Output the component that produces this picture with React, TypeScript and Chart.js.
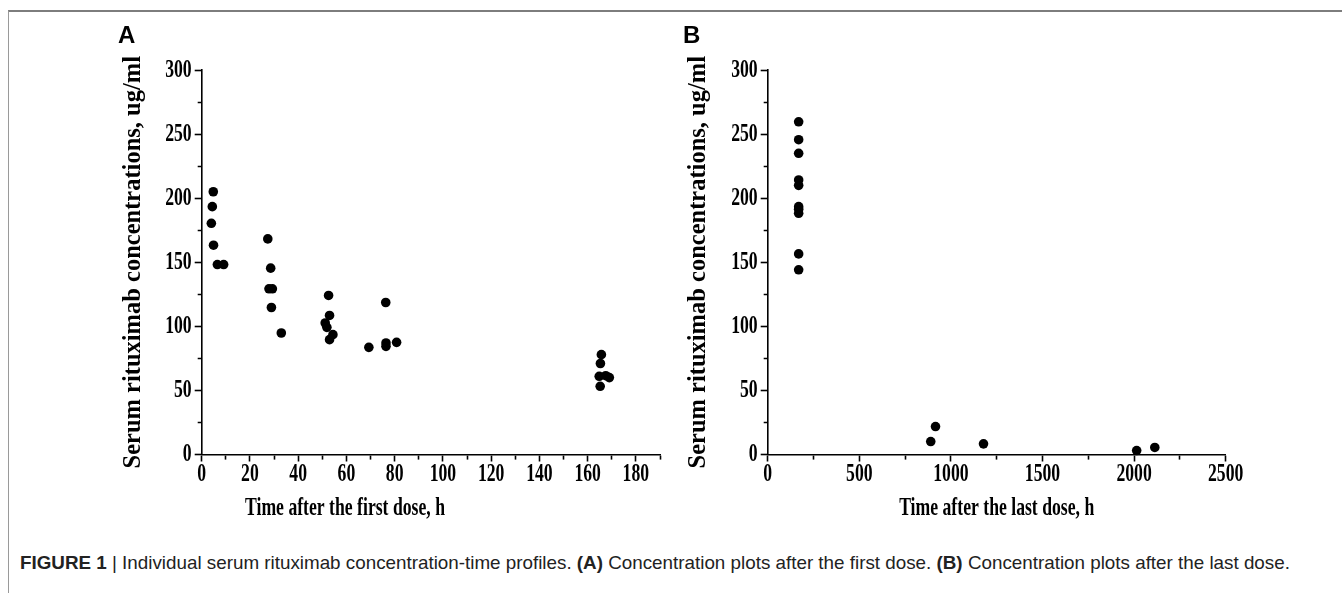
import React, { useEffect, useRef } from "react";
import { Chart, registerables } from "chart.js";

Chart.register(...registerables);

// ---------- Data ----------
// Panel A: time after the first dose (h) and serum rituximab concentration (ug/ml)
const timeAfterFirstDose = [
  4.8, 4.4, 4.0, 4.9, 6.5, 9.1,
  27.4, 28.6, 27.9, 29.3, 28.9, 33.0,
  52.6, 53.0, 51.2, 51.9, 54.4, 53.0,
  69.3, 76.3, 76.4, 76.4, 80.8,
  165.7, 165.3, 164.8, 167.5, 165.2, 169.0,
];
const concAfterFirstDose = [
  205, 193.4, 180.4, 163.3, 148.2, 148.2,
  168.2, 145.4, 129.3, 129.3, 114.7, 94.8,
  124.1, 108.5, 102.6, 99.2, 93.5, 89.6,
  83.6, 118.6, 87.0, 84.4, 87.5,
  77.9, 71.0, 61.0, 61.5, 53.2, 60.0,
];

// Panel B: time after the last dose (h) and serum rituximab concentration (ug/ml)
const timeAfterLastDose = [
  169, 169, 169, 169, 169, 169, 169, 169, 169, 169,
  890, 916, 1178, 2014, 2113,
];
const concAfterLastDose = [
  259.6, 245.6, 235.0, 214.2, 210.0, 193.4, 191.4, 188.2, 156.5, 144.1,
  10.1, 21.8, 8.3, 3.1, 5.5,
];

// Axis ranges / tick steps
const concAxis = { min: 0, max: 300, minorStep: 25, majorStep: 50 };
const firstDoseAxis = { min: 0, max: 190, minorStep: 10, majorStep: 20 };
const lastDoseAxis = { min: 0, max: 2500, minorStep: 250, majorStep: 500 };

// Texts
const panelLabels = ["A", "B"];
const yTitle = "Serum rituximab concentrations, ug/ml";
const xTitleA = "Time after the first dose, h";
const xTitleB = "Time after the last dose, h";

// ---------- Styling ----------
const SERIF = "'Liberation Serif', 'Times New Roman', Times, serif";
const SQUEEZE = 0.68; // the figure's horizontal lettering is condensed
const LABEL_SIZE = 26;
const Y_TITLE_SIZE = 24.5;

function condenseText(ctx: CanvasRenderingContext2D) {
  const anyCtx = ctx as any;
  if (anyCtx.__condensed) return;
  anyCtx.__condensed = true;
  const orig = ctx.fillText.bind(ctx);
  anyCtx.fillText = (text: string, x: number, y: number) => {
    const t = ctx.getTransform();
    if (Math.abs(t.b) > 1e-6) {
      // rotated text (y-axis title) is kept as is
      orig(text, x, y);
      return;
    }
    ctx.save();
    ctx.translate(x, y);
    const m = ctx.getTransform();
    ctx.setTransform(m.a * SQUEEZE, m.b, m.c * SQUEEZE, m.d, m.e, m.f);
    orig(text, 0, 0);
    ctx.restore();
  };
}

type AxisCfg = { min: number; max: number; minorStep: number; majorStep: number };

function axisOptions(cfg: AxisCfg, horizontal: boolean, size: number, extra: any) {
  const tickLen = 7;
  const minorLen = 4;
  return {
    type: "linear",
    min: cfg.min,
    max: cfg.max,
    border: { display: true, color: "#000", width: 1.6 },
    grid: {
      display: true,
      drawOnChartArea: false,
      drawTicks: true,
      tickLength: tickLen,
      tickColor: "#000",
      tickWidth: 1.6,
      tickBorderDash: (c: any) => {
        const v = c.tick ? c.tick.value : 0;
        const major = Math.abs(v % cfg.majorStep) < 1e-6;
        if (major) return [];
        return horizontal ? [minorLen, 100] : [0, tickLen - minorLen, minorLen, 100];
      },
    },
    ticks: {
      stepSize: cfg.minorStep,
      autoSkip: false,
      maxRotation: 0,
      minRotation: 0,
      color: "#000",
      padding: horizontal ? -3 : 3,
      font: { family: SERIF, size: LABEL_SIZE, weight: "bold" },
      callback: (v: number) => (Math.abs(v % cfg.majorStep) < 1e-6 ? String(v) : ""),
    },
    afterFit: (s: any) => {
      if (horizontal) s.height = size;
      else s.width = size;
    },
    ...extra,
  };
}

function makeChart(
  canvas: HTMLCanvasElement,
  xs: number[],
  ys: number[],
  xCfg: AxisCfg,
  geom: { padL: number; padR: number; yWidth: number; yTitlePad: number; xHeight: number },
  xTitleScale: string | null,
  xTitlePlugin: string | null
) {
  const ctx = canvas.getContext("2d")!;
  condenseText(ctx);
  const points = xs.map((x, i) => ({ x, y: ys[i] }));
  return new Chart(ctx, {
    type: "scatter",
    data: {
      datasets: [
        {
          data: points,
          pointRadius: 4.8,
          pointBackgroundColor: "#000",
          pointBorderWidth: 0,
          pointHoverRadius: 4.8,
          clip: false,
        } as any,
      ],
    },
    options: {
      responsive: false,
      maintainAspectRatio: false,
      animation: false,
      events: [],
      layout: { padding: { left: geom.padL, right: geom.padR, top: 70, bottom: 0 } },
      plugins: {
        legend: { display: false },
        tooltip: { enabled: false },
        title: xTitlePlugin
          ? {
              display: true,
              text: xTitlePlugin,
              position: "bottom",
              align: "center",
              color: "#000",
              font: { family: SERIF, size: LABEL_SIZE, weight: "bold" },
              padding: { top: 0, bottom: 16.4 },
            }
          : { display: false },
      },
      scales: {
        x: axisOptions(xCfg, true, geom.xHeight, {
          position: "bottom",
          title: xTitleScale
            ? {
                display: true,
                text: xTitleScale,
                color: "#000",
                font: { family: SERIF, size: LABEL_SIZE, weight: "bold" },
                padding: { top: 0, bottom: 16.4 },
              }
            : { display: false },
        }),
        y: axisOptions(concAxis, false, geom.yWidth, {
          position: "left",
          title: {
            display: true,
            text: yTitle,
            color: "#000",
            font: { family: SERIF, size: Y_TITLE_SIZE, weight: "bold" },
            padding: { top: geom.yTitlePad, bottom: 0 },
          },
        }),
      },
    } as any,
  });
}

export default function App() {
  const refA = useRef<HTMLCanvasElement>(null);
  const refB = useRef<HTMLCanvasElement>(null);

  useEffect(() => {
    const charts: Chart[] = [];
    if (refA.current) {
      charts.push(
        makeChart(
          refA.current,
          timeAfterFirstDose,
          concAfterFirstDose,
          firstDoseAxis,
          { padL: 10, padR: 10, yWidth: 171.7, yTitlePad: 89.3, xHeight: 37.9 },
          null,
          xTitleA
        )
      );
    }
    if (refB.current) {
      charts.push(
        makeChart(
          refB.current,
          timeAfterLastDose,
          concAfterLastDose,
          lastDoseAxis,
          { padL: 0, padR: 104.3, yWidth: 97.7, yTitlePad: 14.3, xHeight: 85.5 },
          xTitleB,
          null
        )
      );
    }
    return () => charts.forEach((c) => c.destroy());
  }, []);

  const panelLabelStyle: React.CSSProperties = {
    position: "absolute",
    top: 23,
    font: "bold 24px 'Liberation Sans', Arial, sans-serif",
    lineHeight: "24px",
    color: "#000",
  };

  return (
    <div
      style={{
        position: "fixed",
        left: 0,
        top: 0,
        width: 1342,
        height: 593,
        background: "#fff",
        overflow: "hidden",
      }}
    >
      <div
        style={{
          position: "absolute",
          left: 8,
          top: 10,
          width: 1400,
          height: 700,
          borderTop: "2px solid #7d7d7d",
          borderLeft: "1.5px solid #9a9a9a",
        }}
      />
      <canvas
        ref={refA}
        width={650}
        height={540}
        style={{ position: "absolute", left: 20, top: 0, width: 650, height: 540 }}
      />
      <canvas
        ref={refB}
        width={660}
        height={540}
        style={{ position: "absolute", left: 670, top: 0, width: 660, height: 540 }}
      />
      <div style={{ ...panelLabelStyle, left: 118 }}>{panelLabels[0]}</div>
      <div style={{ ...panelLabelStyle, left: 683 }}>{panelLabels[1]}</div>
      <div
        style={{
          position: "absolute",
          left: 20,
          top: 552,
          font: "19px 'Liberation Sans', Arial, sans-serif",
          lineHeight: "22px",
          color: "#222",
          whiteSpace: "nowrap",
          transform: "scaleX(0.99)",
          transformOrigin: "left center",
        }}
      >
        <b>FIGURE 1</b> | Individual serum rituximab concentration-time profiles. <b>(A)</b> Concentration
        plots after the first dose. <b>(B)</b> Concentration plots after the last dose.
      </div>
    </div>
  );
}
